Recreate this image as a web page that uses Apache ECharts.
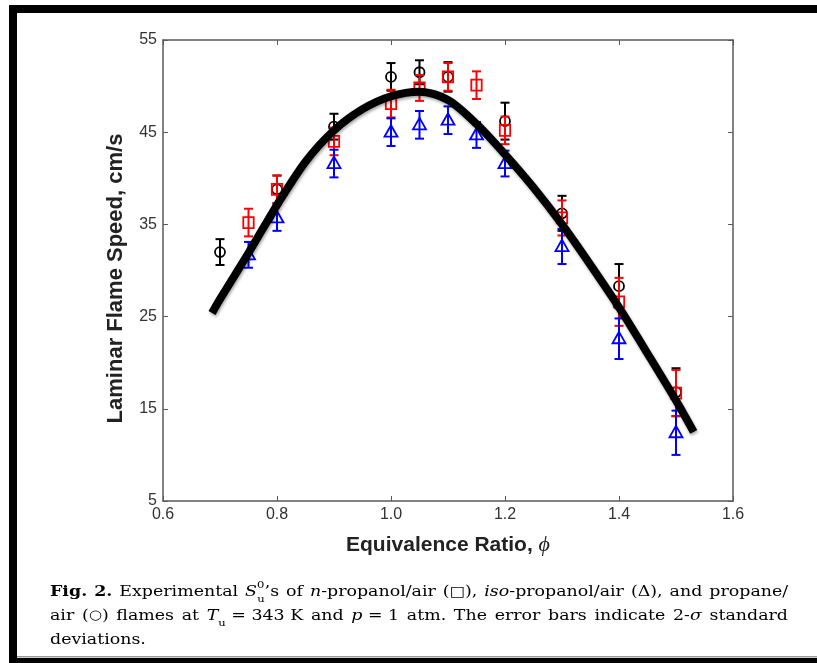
<!DOCTYPE html>
<html>
<head>
<meta charset="utf-8">
<script src="https://cdn.jsdelivr.net/npm/echarts@6/dist/echarts.min.js"></script>
<style>
html,body{margin:0;padding:0;background:#fff;}
#c{width:817px;height:663px;}
</style>
</head>
<body>
<div id="c"></div>
<script>
// ---- data ----
const xTicks = [0.6, 0.8, 1.0, 1.2, 1.4, 1.6];
const yTicks = [5, 15, 25, 35, 45, 55];

// propane/air (circles, black)
const propanePhi   = [0.70, 0.80, 0.90, 1.00, 1.05, 1.10, 1.20, 1.30, 1.40, 1.50];
const propaneSpeed = [32.0, 38.8, 45.6, 51.0, 51.5, 51.0, 46.2, 36.2, 28.3, 16.8];
const propaneErr   = [1.4, 1.5, 1.4, 1.5, 1.3, 1.6, 2.0, 1.9, 2.4, 2.6];

// n-propanol/air (squares, red)
const nPropPhi   = [0.75, 0.80, 0.90, 1.00, 1.05, 1.10, 1.15, 1.20, 1.30, 1.40, 1.50];
const nPropSpeed = [35.2, 38.8, 44.0, 48.1, 49.8, 51.0, 50.1, 45.2, 35.7, 26.6, 16.7];
const nPropErr   = [1.5, 1.5, 1.5, 1.5, 1.4, 1.5, 1.5, 1.5, 1.9, 2.6, 2.5];

// iso-propanol/air (triangles, blue)
const isoPropPhi   = [0.75, 0.80, 0.90, 1.00, 1.05, 1.10, 1.15, 1.20, 1.30, 1.40, 1.50];
const isoPropSpeed = [31.7, 35.7, 41.6, 45.0, 45.8, 46.3, 44.7, 41.6, 32.6, 22.6, 12.4];
const isoPropErr   = [1.4, 1.4, 1.5, 1.5, 1.5, 1.5, 1.4, 1.4, 1.9, 2.2, 2.4];

// thick black trend curve (points read along it)
const curvePhi   = [0.686, 0.70, 0.75, 0.80, 0.85, 0.90, 0.95, 1.00, 1.05, 1.10, 1.15, 1.20, 1.25, 1.30, 1.35, 1.40, 1.45, 1.50, 1.531];
const curveSpeed = [25.4, 26.9, 31.9, 37.1, 41.8, 45.2, 47.5, 48.9, 49.4, 48.5, 45.9, 42.6, 39.0, 35.0, 30.6, 26.0, 21.0, 15.9, 12.5];

// ---- build ----
const zip3 = (a, b, c) => a.map((v, i) => [v, b[i], c[i]]);
const zip2 = (a, b) => a.map((v, i) => [v, b[i]]);

function errRender(color, shape) {
  return function (params, api) {
    const x = api.value(0), y = api.value(1), e = api.value(2);
    const c = api.coord([x, y]);
    const hi = api.coord([x, y + e]);
    const lo = api.coord([x, y - e]);
    const cw = 4.5, lw = 2;
    const st = { stroke: color, lineWidth: lw, fill: null };
    const kids = [
      { type: 'line', shape: { x1: c[0], y1: hi[1], x2: c[0], y2: lo[1] }, style: st },
      { type: 'line', shape: { x1: c[0] - cw, y1: hi[1], x2: c[0] + cw, y2: hi[1] }, style: st },
      { type: 'line', shape: { x1: c[0] - cw, y1: lo[1], x2: c[0] + cw, y2: lo[1] }, style: st }
    ];
    const ms = { stroke: color, lineWidth: 1.8, fill: null };
    if (shape === 'circle') {
      kids.push({ type: 'circle', shape: { cx: c[0], cy: c[1], r: 5 }, style: ms });
    } else if (shape === 'square') {
      kids.push({ type: 'rect', shape: { x: c[0] - 5.2, y: c[1] - 5.5, width: 10.4, height: 11 }, style: ms });
    } else {
      kids.push({ type: 'polygon', shape: { points: [[c[0], c[1] - 7], [c[0] - 6.5, c[1] + 4.5], [c[0] + 6.5, c[1] + 4.5]] }, style: ms });
    }
    return { type: 'group', children: kids };
  };
}

// ---- caption (justified lines, horizontally widened like the source scan) ----
const capColor = '#20202e';
const capFont = 'DejaVu Serif';
const capSize = 15;
const capStretch = 1.16;
const capRich = {
  b:   { fontFamily: capFont, fontSize: capSize, fontWeight: 'bold', color: capColor, lineHeight: 24 },
  t:   { fontFamily: capFont, fontSize: capSize, color: capColor, lineHeight: 24 },
  i:   { fontFamily: capFont, fontSize: capSize, fontStyle: 'italic', color: capColor, lineHeight: 24 },
  sub: { fontFamily: capFont, fontSize: 10, color: capColor, lineHeight: 17, verticalAlign: 'bottom' },
  sup: { fontFamily: capFont, fontSize: 10, color: capColor, lineHeight: 12, verticalAlign: 'top', width: 0.1 },
  red: { fontFamily: 'DejaVu Sans', fontSize: 14, color: '#ff0000', lineHeight: 24 },
  blu: { fontFamily: capFont, fontSize: capSize, color: '#1010ff', lineHeight: 24 },
  gry: { fontFamily: 'DejaVu Sans', fontSize: 13, color: '#555', lineHeight: 24 }
};
const capLines = [
  [[['b', 'Fig.']], [['b', '2.']], [['t', 'Experimental']], [['i', 'S'], ['sup', '0'], ['sub', 'u'], ['t', '’s']], [['t', 'of']],
   [['i', 'n'], ['t', '-propanol/air']], [['t', '('], ['red', '□'], ['t', '),']], [['i', 'iso'], ['t', '-propanol/air']],
   [['t', '('], ['blu', 'Δ'], ['t', '),']], [['t', 'and']], [['t', 'propane/']]],
  [[['t', 'air']], [['t', '('], ['gry', '○'], ['t', ')']], [['t', 'flames']], [['t', 'at']], [['i', 'T'], ['sub', 'u'], ['t', ' = 343 K']],
   [['t', 'and']], [['i', 'p'], ['t', ' = 1']], [['t', 'atm.']], [['t', 'The']], [['t', 'error']], [['t', 'bars']],
   [['t', 'indicate']], [['t', '2-'], ['i', 'σ']], [['t', 'standard']]],
  [[['t', 'deviations.']]]
];
const capJustifyWidth = 738 / capStretch;
const mctx = document.createElement('canvas').getContext('2d');
function segW(style, text) {
  const s = capRich[style];
  if (style === 'sup') return 0;
  mctx.font = (s.fontStyle || 'normal') + ' ' + (s.fontWeight || 'normal') + ' ' + s.fontSize + 'px ' + s.fontFamily;
  return mctx.measureText(text).width;
}
const capText = capLines.map((words, li) => {
  const justify = li < capLines.length - 1;
  let sum = 0;
  words.forEach(w => w.forEach(([s, t]) => { sum += segW(s, t); }));
  const gap = justify ? Math.max(2, (capJustifyWidth - sum) / (words.length - 1)) : segW('t', ' ');
  capRich['g' + li] = { width: gap, fontSize: capSize, lineHeight: 24 };
  return words.map(w => w.map(([s, t]) => '{' + s + '|' + t + '}').join('')).join('{g' + li + '| }');
}).join('\n');

const axisColor = '#5a5a5a';
const tickFont = { color: '#333', fontFamily: 'Liberation Sans, Arial, sans-serif', fontSize: 16 };

const chart = echarts.init(document.getElementById('c'), null, { renderer: 'canvas' });

const option = {
  backgroundColor: '#fff',
  animation: false,
  grid: { left: 163, top: 40, right: 84, bottom: 162, containLabel: false },
  xAxis: [{
    type: 'value', min: xTicks[0], max: xTicks[xTicks.length - 1], interval: 0.2, position: 'bottom',
    axisLine: { show: true, lineStyle: { color: axisColor, width: 1.5 } },
    axisTick: { show: true, inside: true, length: 5, lineStyle: { color: axisColor, width: 1 } },
    axisLabel: Object.assign({ margin: 6, formatter: v => v.toFixed(1) }, tickFont),
    splitLine: { show: false },
    name: '{n|Equivalence Ratio, }{p|ϕ}',
    nameLocation: 'middle', nameGap: 33,
    nameTextStyle: {
      rich: {
        n: { fontFamily: 'Liberation Sans, Arial', fontWeight: 'bold', fontSize: 21, color: '#222' },
        p: { fontFamily: 'Liberation Serif', fontStyle: 'italic', fontSize: 22, color: '#222' }
      }
    }
  }, {
    type: 'value', min: xTicks[0], max: xTicks[xTicks.length - 1], interval: 0.2, position: 'top',
    axisLine: { show: true, lineStyle: { color: axisColor, width: 1.5 } },
    axisTick: { show: true, inside: true, length: 5, lineStyle: { color: axisColor, width: 1 } },
    axisLabel: { show: false }, splitLine: { show: false }
  }],
  yAxis: [{
    type: 'value', min: yTicks[0], max: yTicks[yTicks.length - 1], interval: 10, position: 'left',
    axisLine: { show: true, lineStyle: { color: axisColor, width: 1.5 } },
    axisTick: { show: true, inside: true, length: 5, lineStyle: { color: axisColor, width: 1 } },
    axisLabel: Object.assign({ margin: 6 }, tickFont),
    splitLine: { show: false },
    name: 'Laminar Flame Speed, cm/s',
    nameLocation: 'middle', nameGap: 36,
    nameTextStyle: { fontFamily: 'Liberation Sans, Arial', fontWeight: 'bold', fontSize: 22, color: '#222', padding: [0, 16, 0, 0] }
  }, {
    type: 'value', min: yTicks[0], max: yTicks[yTicks.length - 1], interval: 10, position: 'right',
    axisLine: { show: true, lineStyle: { color: axisColor, width: 1.5 } },
    axisTick: { show: true, inside: true, length: 5, lineStyle: { color: axisColor, width: 1 } },
    axisLabel: { show: false }, splitLine: { show: false }
  }],
  series: [
    { type: 'custom', name: 'propane/air', renderItem: errRender('#000000', 'circle'), data: zip3(propanePhi, propaneSpeed, propaneErr), z: 3, encode: { x: 0, y: 1 } },
    { type: 'custom', name: 'n-propanol/air', renderItem: errRender('#ff0000', 'square'), data: zip3(nPropPhi, nPropSpeed, nPropErr), z: 4, encode: { x: 0, y: 1 } },
    { type: 'custom', name: 'iso-propanol/air', renderItem: errRender('#0000ff', 'triangle'), data: zip3(isoPropPhi, isoPropSpeed, isoPropErr), z: 5, encode: { x: 0, y: 1 } },
    {
      type: 'line', name: 'trend', data: zip2(curvePhi, curveSpeed), smooth: 0.3, symbol: 'none', z: 10,
      lineStyle: { color: '#000', width: 8, cap: 'butt', shadowColor: 'rgba(0,0,0,0.35)', shadowBlur: 3, shadowOffsetX: 1, shadowOffsetY: 2 }
    }
  ],
  graphic: [
    // frame
    { type: 'rect', shape: { x: 9, y: 5, width: 8, height: 658 }, style: { fill: '#000' }, silent: true },
    { type: 'rect', shape: { x: 9, y: 5, width: 808, height: 8 }, style: { fill: '#000' }, silent: true },
    { type: 'rect', shape: { x: 17, y: 656, width: 800, height: 1.5 }, style: { fill: '#999' }, silent: true },
    { type: 'rect', shape: { x: 9, y: 658, width: 808, height: 5 }, style: { fill: '#000' }, silent: true },
    // caption
    { type: 'text', x: 50, y: 580, scaleX: capStretch, style: { text: capText, rich: capRich, align: 'left', verticalAlign: 'top' } }
  ]
};
chart.setOption(option);
</script>
</body>
</html>
